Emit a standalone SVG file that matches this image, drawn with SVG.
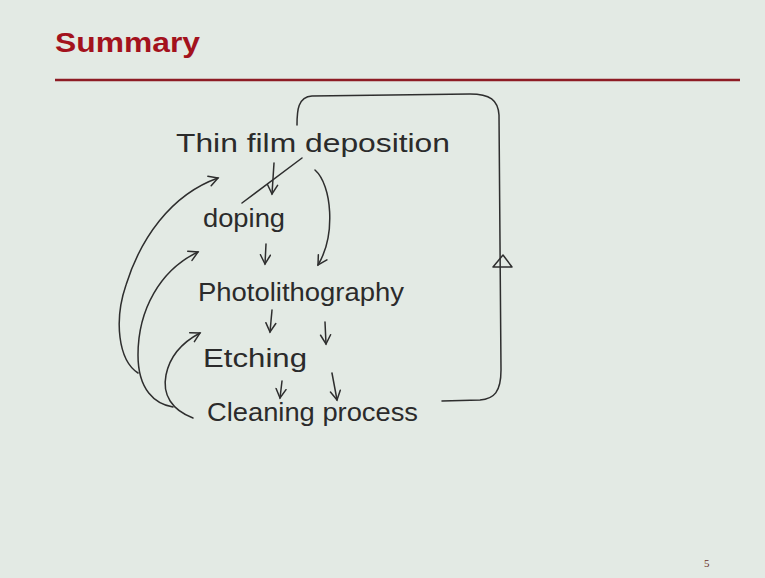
<svg xmlns="http://www.w3.org/2000/svg" width="765" height="578" viewBox="0 0 765 578">
<defs>
<marker id="ah" markerWidth="14" markerHeight="14" refX="10" refY="6" orient="auto" markerUnits="userSpaceOnUse">
<path d="M1,1 L10,6 L1,11" fill="none" stroke="#2e2e2e" stroke-width="1.5" stroke-linecap="round"/>
</marker>
</defs>
<style>
.hw{font-family:"Liberation Sans","DejaVu Sans",sans-serif;fill:#2b2b2b;font-size:26px}
.ln{fill:none;stroke:#2e2e2e;stroke-width:1.5;stroke-linecap:round;stroke-linejoin:round}
.ar{marker-end:url(#ah)}
</style>
<rect width="765" height="578" fill="#e3eae4"/>
<text x="55" y="52" font-family="Liberation Sans, Arial, sans-serif" font-weight="bold" font-size="28" fill="#a3121d" textLength="145" lengthAdjust="spacingAndGlyphs">Summary</text>
<line x1="55" y1="80" x2="740" y2="80" stroke="#8e1c24" stroke-width="2.5"/>
<text x="704" y="567" font-family="Liberation Serif, serif" font-size="11" fill="#6a3028">5</text>

<g id="n_thinfilm"><text class="hw" x="176" y="152" textLength="274" lengthAdjust="spacingAndGlyphs">Thin film deposition</text></g>
<g id="n_doping"><text class="hw" x="203" y="227" textLength="82" lengthAdjust="spacingAndGlyphs">doping</text></g>
<g id="n_photo"><text class="hw" x="198" y="301" textLength="206" lengthAdjust="spacingAndGlyphs">Photolithography</text></g>
<g id="n_etching"><text class="hw" x="203" y="367" font-size="24" textLength="104" lengthAdjust="spacingAndGlyphs">Etching</text></g>
<g id="n_cleaning"><text class="hw" x="207" y="421" textLength="211" lengthAdjust="spacingAndGlyphs">Cleaning process</text></g>

<g id="connectors">
<path class="ln" d="M297,125 C297,110 298,97 312,96 L470,94 C490,94 498,100 499,115 L501,370 C501,392 494,399 480,400 L442,401"/>
<polygon class="ln" points="493,267 512,267 503,255"/>
<path class="ln" d="M302,158 L242,203"/>
<path class="ln ar" d="M274,163 L272,194"/>
<path class="ln ar" d="M315,170 C332,185 336,235 318,265"/>
<path class="ln ar" d="M266,244 L265,264"/>
<path class="ln ar" d="M272,310 L270,332"/>
<path class="ln ar" d="M325,322 L326,344"/>
<path class="ln ar" d="M282,381 L280,398"/>
<path class="ln ar" d="M332,373 L337,400"/>
<path class="ln ar" d="M138,373 C118,360 114,320 126,285 C140,240 170,195 218,178"/>
<path class="ln ar" d="M173,407 C155,404 138,390 138,355 C138,310 160,270 198,252"/>
<path class="ln ar" d="M193,418 C172,410 162,395 166,375 C170,355 183,342 200,333"/>
</g>
</svg>
